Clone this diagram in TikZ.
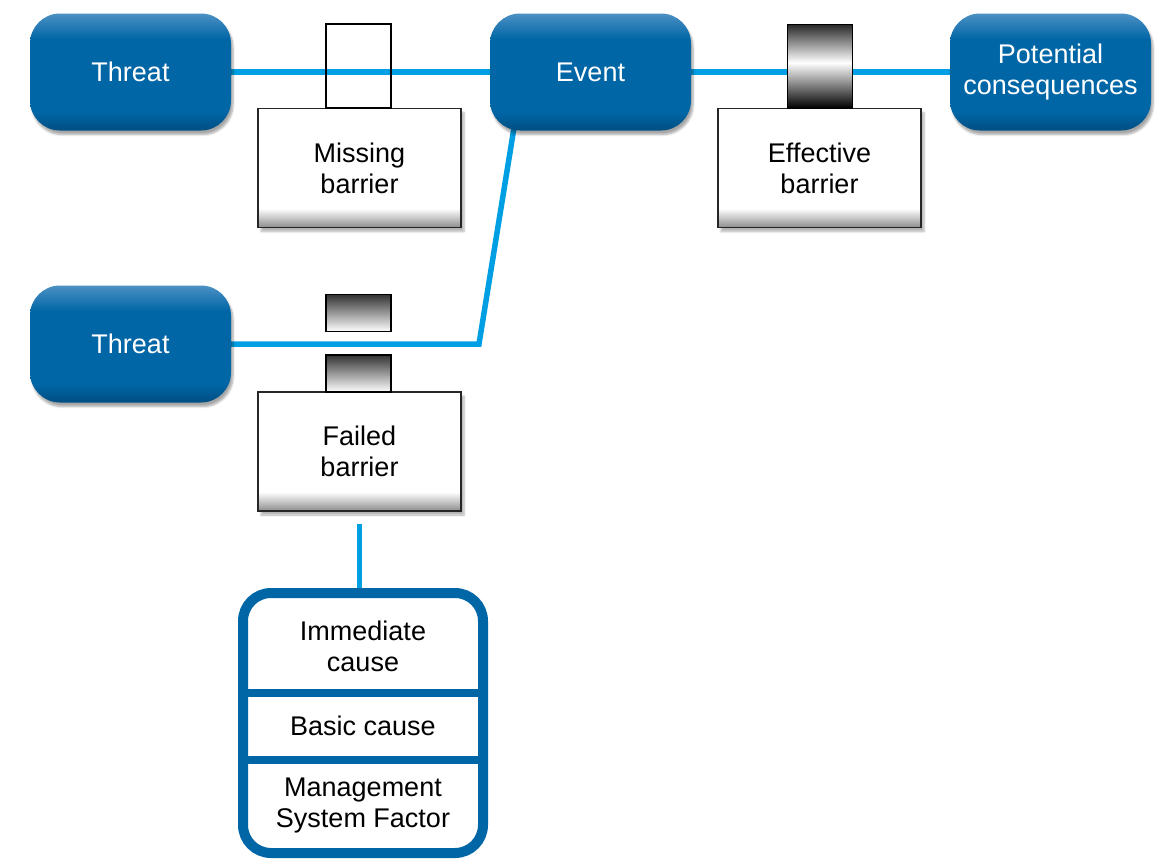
\documentclass[tikz,border=0pt]{standalone}
\usepackage{fontspec}
\setmainfont{Liberation Sans}
\usetikzlibrary{shadows.blur,backgrounds}
\definecolor{dblue}{HTML}{0066A6}
\definecolor{darkblue}{HTML}{004E82}
\definecolor{lblue}{HTML}{4B90C4}
\definecolor{cyanline}{HTML}{009FE3}
\pgfdeclareverticalshading{boxshade}{100bp}{color(0bp)=(darkblue); color(25bp)=(darkblue); color(33bp)=(dblue); color(64bp)=(dblue); color(75bp)=(lblue); color(100bp)=(lblue)}
\pgfdeclareverticalshading{barshade}{100bp}{color(0bp)=(black!45); color(25bp)=(black!45); color(33bp)=(white); color(100bp)=(white)}
\pgfdeclareverticalshading{effshade}{100bp}{color(0bp)=(black); color(25bp)=(black); color(52bp)=(white); color(75bp)=(black!85); color(100bp)=(black!85)}
\begin{document}
\begin{tikzpicture}[x=1pt,y=-1pt,
  txt/.style={font=\fontsize{27}{31}\selectfont, align=center},
  mainbox/.style={txt, rounded corners=30pt, minimum width=201pt, minimum height=117pt,
    shading=boxshade, text=white, inner sep=0pt,
    blur shadow={shadow xshift=2pt, shadow yshift=-4pt, shadow blur steps=6, shadow opacity=35}},
  barbox/.style={txt, draw=black!85, line width=1.5pt, shading=barshade, minimum width=203pt, minimum height=119pt, inner sep=0pt,
    blur shadow={shadow xshift=3pt, shadow yshift=-4pt, shadow blur steps=6, shadow opacity=30}},
  emptypost/.style={draw=black, line width=2pt, minimum width=65pt, minimum height=84pt, inner sep=0pt},
  effpost/.style={draw=black, line width=1pt, shading=effshade, minimum width=65pt, minimum height=84pt, inner sep=0pt},
  failblock/.style={draw=black, line width=1.5pt, top color=black!80, bottom color=white, minimum width=65pt, minimum height=37pt, inner sep=0pt},
  conn/.style={cyanline, line width=5.5pt},
  causebox/.style={draw=dblue, line width=10pt, fill=white, rounded corners=28pt, minimum width=240pt, minimum height=260pt, inner sep=0pt,
    blur shadow={shadow xshift=2pt, shadow yshift=-3pt, shadow blur steps=5, shadow opacity=30}},
  divider/.style={dblue, line width=8pt}
]
\useasboundingbox (0,0) rectangle (1165,862);

% main boxes
\node[mainbox] (t1) at (130.5,72) {Threat};
\node[mainbox] (ev) at (590.5,72) {Event};
\node[mainbox] (pc) at (1050.5,72) {Potential\\consequences};
\node[mainbox] (t2) at (130.5,344) {Threat};

% barriers
\node[barbox] (mb) at (359.5,168) {Missing\\barrier};
\node[emptypost] (mp) at (358.5,66) {};
\node[barbox] (eb) at (819.5,168) {Effective\\barrier};
\node[effpost] (ep) at (819.5,66) {};
\node[barbox] (fb) at (359.5,451.5) {Failed\\barrier};
\node[failblock] (fu) at (358.5,313) {};
\node[failblock] (fl) at (358.5,373.5) {};

% causes box
\node[causebox] (cb) at (363,723) {};
\draw[divider] (cb.west |- 0,693) -- (cb.east |- 0,693);
\draw[divider] (cb.west |- 0,759.5) -- (cb.east |- 0,759.5);
\node[txt] (c1) at (363,646) {Immediate\\cause};
\node[txt] (c2) at (363,726) {Basic cause};
\node[txt] (c3) at (363,806) {Management\\System Factor};

% connectors
\coordinate (bend) at (479,344);
\begin{scope}[on background layer]
\draw[conn] (t1) -- (ev);
\draw[conn] (ev) -- (pc);
\draw[conn] ([xshift=-76pt,yshift=6pt]ev.south) -- (bend) -- (t2);
\draw[conn] ([yshift=-12pt]fb.south) -- (fb.south |- cb.north);
\end{scope}
\end{tikzpicture}
\end{document}
